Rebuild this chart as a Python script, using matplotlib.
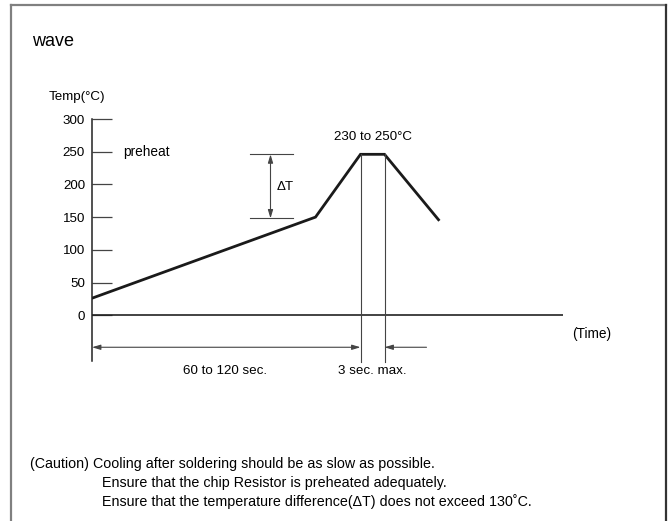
import matplotlib
matplotlib.use("Agg")
import matplotlib.pyplot as plt
from matplotlib.lines import Line2D

plt.rcParams["font.family"] = ["Liberation Sans", "DejaVu Sans"]

# === profile data (time in arbitrary units, temperature in degC) ===
profile_time = [0, 149, 179, 195, 231]
profile_temp = [26, 150, 246, 246, 146]
yticks = [0, 50, 100, 150, 200, 250, 300]
delta_t_low, delta_t_high = 148, 246
delta_t_x = 119
peak_start, peak_end = 179, 195
axis_end = 314
dim_end = 223
dim_y = -49

caution_lines = [
    "(Caution) Cooling after soldering should be as slow as possible.",
    "Ensure that the chip Resistor is preheated adequately.",
    "Ensure that the temperature difference(\u0394T) does not exceed 130\u02daC.",
]

W, H = 671, 521
fig = plt.figure(figsize=(W / 100, H / 100), dpi=100)

# outer frame (open at the bottom)
fc = "#808080"
fig.add_artist(Line2D([11 / W, 11 / W], [0, 1 - 5 / H], color=fc, lw=1.6))
fig.add_artist(Line2D([11 / W, 666 / W], [1 - 5 / H, 1 - 5 / H], color=fc, lw=1.6))
fig.add_artist(Line2D([666 / W, 666 / W], [0, 1 - 5 / H], color="#333333", lw=1.6))

fig.text(32 / W, 1 - 41 / H, "wave", fontsize=13, va="center", ha="left")
fig.text(49 / W, 1 - 97 / H, "Temp(\u00b0C)", fontsize=9.6, va="center", ha="left")

ax = fig.add_axes([92 / W, 1 - 361 / H, 570 / W, 242 / H])
ax.set_xlim(0, 380)
ax.set_ylim(-70, 300)
for s in ["top", "right", "bottom"]:
    ax.spines[s].set_visible(False)
ax.spines["left"].set_bounds(-70, 300)
ax.spines["left"].set_color("#222222")
ax.spines["left"].set_linewidth(1.1)
ax.set_xticks([])
ax.set_yticks(yticks)
ax.set_yticklabels([str(v) for v in yticks])
ax.tick_params(axis="y", direction="in", length=14.5, width=0.9, color="#444444",
               labelsize=9.6, pad=5)
ax.patch.set_visible(False)

# time axis
ax.plot([0, axis_end], [0, 0], color="#222222", lw=1.2, solid_capstyle="butt")

# temperature profile
ax.plot(profile_time, profile_temp, color="#1a1a1a", lw=2.0, solid_joinstyle="miter")

# peak verticals
thin = dict(color="#444444", lw=0.8)
ax.plot([peak_start, peak_start], [profile_temp[2], -72], clip_on=False, **thin)
ax.plot([peak_end, peak_end], [profile_temp[3], -72], clip_on=False, **thin)

# delta T bracket
ax.plot([105, 134], [delta_t_high, delta_t_high], **thin)
ax.plot([105, 134], [delta_t_low, delta_t_low], **thin)
head = "<|-|>,head_length=0.5,head_width=0.15"
ax.annotate("", xy=(delta_t_x, delta_t_low), xytext=(delta_t_x, delta_t_high),
            arrowprops=dict(arrowstyle=head, color="#444444", lw=0.8,
                            shrinkA=0, shrinkB=0, mutation_scale=10))
ax.text(123, 196, "\u0394T", fontsize=9.6, va="center", ha="left")

# time dimensions
ax.annotate("", xy=(0, dim_y), xytext=(peak_start, dim_y),
            arrowprops=dict(arrowstyle=head, color="#444444", lw=0.8,
                            shrinkA=0, shrinkB=0, mutation_scale=10))
ax.annotate("", xy=(peak_end, dim_y), xytext=(dim_end, dim_y),
            arrowprops=dict(arrowstyle="-|>,head_length=0.5,head_width=0.15",
                            color="#444444", lw=0.8, shrinkA=0, shrinkB=0,
                            mutation_scale=10))

ax.text(21, 250, "preheat", fontsize=9.8, va="center", ha="left")
ax.text(187, 272, "230 to 250\u00b0C", fontsize=9.6, va="center", ha="center")
ax.text(320, -29, "(Time)", fontsize=9.8, va="center", ha="left")
ax.text(89, -86, "60 to 120 sec.", fontsize=9.6, va="center", ha="center")
ax.text(187, -86, "3 sec. max.", fontsize=9.6, va="center", ha="center")

fig.text(30 / W, 1 - 464 / H, caution_lines[0], fontsize=10.3, va="center", ha="left")
fig.text(102 / W, 1 - 483 / H, caution_lines[1], fontsize=10.3, va="center", ha="left")
fig.text(102 / W, 1 - 502 / H, caution_lines[2], fontsize=10.3, va="center", ha="left")

fig.savefig("out.png", dpi=100)
